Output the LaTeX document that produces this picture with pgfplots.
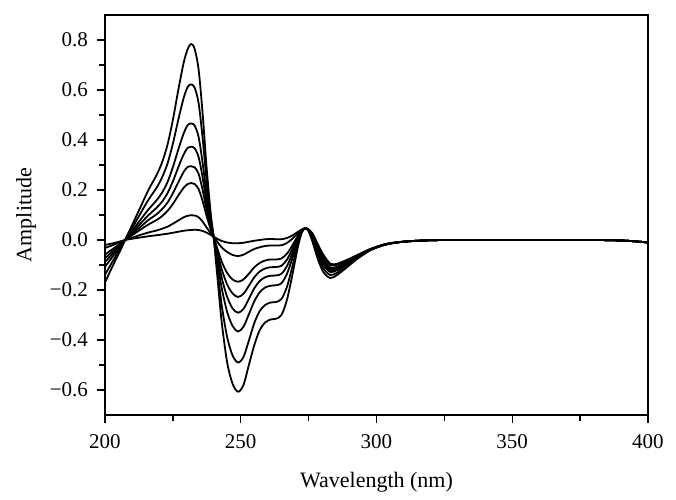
\documentclass[border=0pt]{standalone}
\usepackage{pgfplots}
\pgfplotsset{compat=1.18}
\usepackage{pgfplotstable}
\usepackage{fontspec}
\setmainfont{Liberation Serif}

\pgfplotstableread{
x c1 c2 c3 c4 c5 c6 c7 c8
200 -0.170 -0.139 -0.107 -0.088 -0.073 -0.058 -0.032 -0.020
203 -0.100 -0.082 -0.064 -0.053 -0.044 -0.035 -0.020 -0.013
205.5 -0.045 -0.037 -0.029 -0.024 -0.020 -0.016 -0.009 -0.006
207.4 0 0 0 0 0 0 0 0
210 0.060 0.048 0.037 0.030 0.024 0.019 0.009 0.005
213 0.130 0.105 0.080 0.065 0.052 0.041 0.020 0.010
216 0.200 0.161 0.122 0.099 0.080 0.062 0.030 0.015
219 0.260 0.209 0.159 0.129 0.103 0.080 0.038 0.019
221 0.310 0.250 0.189 0.153 0.123 0.095 0.045 0.022
223 0.380 0.305 0.231 0.187 0.149 0.116 0.053 0.025
225 0.480 0.385 0.291 0.234 0.187 0.144 0.065 0.029
227 0.600 0.481 0.362 0.291 0.231 0.178 0.078 0.033
229 0.710 0.569 0.427 0.343 0.273 0.209 0.091 0.037
230.5 0.765 0.613 0.460 0.369 0.293 0.224 0.097 0.039
231.7 0.784 0.622 0.466 0.373 0.295 0.228 0.099 0.040
233 0.765 0.610 0.458 0.367 0.291 0.224 0.098 0.041
234.5 0.680 0.546 0.411 0.331 0.264 0.203 0.091 0.040
236 0.500 0.403 0.305 0.247 0.198 0.154 0.073 0.036
237.5 0.280 0.227 0.175 0.143 0.117 0.093 0.049 0.029
239 0.100 0.083 0.066 0.056 0.048 0.040 0.026 0.020
240 0.013 0.013 0.013 0.013 0.013 0.013 0.013 0.013
241.5 -0.160 -0.126 -0.091 -0.071 -0.053 -0.038 -0.009 0.004
243 -0.330 -0.262 -0.193 -0.152 -0.118 -0.087 -0.030 -0.004
245 -0.490 -0.389 -0.288 -0.228 -0.178 -0.132 -0.048 -0.010
247 -0.575 -0.462 -0.344 -0.274 -0.214 -0.158 -0.060 -0.013
249 -0.607 -0.490 -0.366 -0.291 -0.228 -0.167 -0.064 -0.013
251 -0.580 -0.468 -0.347 -0.276 -0.215 -0.158 -0.059 -0.011
253 -0.500 -0.402 -0.297 -0.235 -0.183 -0.135 -0.047 -0.007
255 -0.420 -0.332 -0.245 -0.193 -0.149 -0.109 -0.036 -0.003
257 -0.360 -0.284 -0.209 -0.164 -0.126 -0.092 -0.029 0.000
259 -0.330 -0.260 -0.190 -0.149 -0.114 -0.082 -0.024 0.003
261 -0.318 -0.250 -0.183 -0.143 -0.109 -0.078 -0.022 0.004
263 -0.315 -0.248 -0.181 -0.142 -0.108 -0.078 -0.022 0.003
265 -0.300 -0.236 -0.173 -0.135 -0.103 -0.074 -0.021 0.003
267 -0.240 -0.188 -0.136 -0.105 -0.079 -0.055 -0.012 0.008
269 -0.140 -0.107 -0.074 -0.054 -0.037 -0.022 0.005 0.018
271 -0.030 -0.017 -0.004 0.004 0.010 0.016 0.027 0.032
272.5 0.030 0.033 0.035 0.037 0.038 0.039 0.041 0.042
273.8 0.047 0.047 0.047 0.047 0.047 0.047 0.047 0.047
275 0.035 0.036 0.038 0.039 0.040 0.040 0.041 0.042
276.5 -0.010 -0.003 0.005 0.009 0.013 0.016 0.022 0.025
278.5 -0.080 -0.067 -0.055 -0.047 -0.041 -0.035 -0.025 -0.020
280.5 -0.130 -0.115 -0.101 -0.092 -0.085 -0.078 -0.066 -0.060
283 -0.152 -0.140 -0.128 -0.121 -0.115 -0.110 -0.100 -0.095
285.5 -0.140 -0.131 -0.121 -0.116 -0.111 -0.107 -0.099 -0.095
289 -0.110 -0.104 -0.097 -0.094 -0.091 -0.088 -0.082 -0.080
293 -0.075 -0.072 -0.069 -0.067 -0.065 -0.064 -0.061 -0.060
298 -0.040 -0.039 -0.038 -0.037 -0.037 -0.036 -0.035 -0.035
304 -0.017 -0.017 -0.016 -0.016 -0.016 -0.015 -0.015 -0.015
312 -0.005 -0.005 -0.005 -0.005 -0.005 -0.005 -0.005 -0.005
325 0 0 0 0 0 0 0 0
350 0 0 0 0 0 0 0 0
380 0 0 0 0 0 0 0 0
392 -0.003 -0.003 -0.003 -0.003 -0.003 -0.003 -0.003 -0.003
400 -0.010 -0.010 -0.010 -0.010 -0.010 -0.010 -0.010 -0.010
}\spectra

\begin{document}
\begin{tikzpicture}
\begin{axis}[
  name=ax,
  scale only axis,
  width=271.5pt, height=200pt,
  xmin=200, xmax=400, ymin=-0.7, ymax=0.9,
  xtick={200,250,300,350,400},
  xticklabels={200,250,300,350,400},
  minor x tick num=1,
  ytick={-0.6,-0.4,-0.2,0,0.2,0.4,0.6,0.8},
  yticklabels={−0.6,−0.4,−0.2,0.0,0.2,0.4,0.6,0.8},
  minor y tick num=1,
  tick align=outside,
  xtick pos=left, ytick pos=left,
  major tick length=4pt, minor tick length=2.8pt,
  axis line style={line width=0.7pt},
  every tick/.style={line width=0.7pt, black},
  tick label style={font=\fontsize{10.5}{12}\selectfont},
  xticklabel style={yshift=-2pt},
  yticklabel style={xshift=-1pt},
  xlabel={Wavelength (nm)},
  ylabel={Amplitude},
  label style={font=\fontsize{11}{13}\selectfont},
  xlabel style={at={(axis description cs:0.5,0)}, anchor=base, yshift=-36.5pt},
  ylabel style={at={([xshift=-39.5pt]axis description cs:0,0.5)}, anchor=center},
  clip=true,
]
\foreach \c in {c1,c2,c3,c4,c5,c6,c7,c8}{
  \addplot[black, line width=0.9pt, smooth, tension=0.5] table[x=x, y=\c] {\spectra};
}
\end{axis}
\path ([xshift=-52.5pt,yshift=-41.5pt]ax.south west) rectangle ([xshift=14pt,yshift=7.5pt]ax.north east);
\end{tikzpicture}
\end{document}
